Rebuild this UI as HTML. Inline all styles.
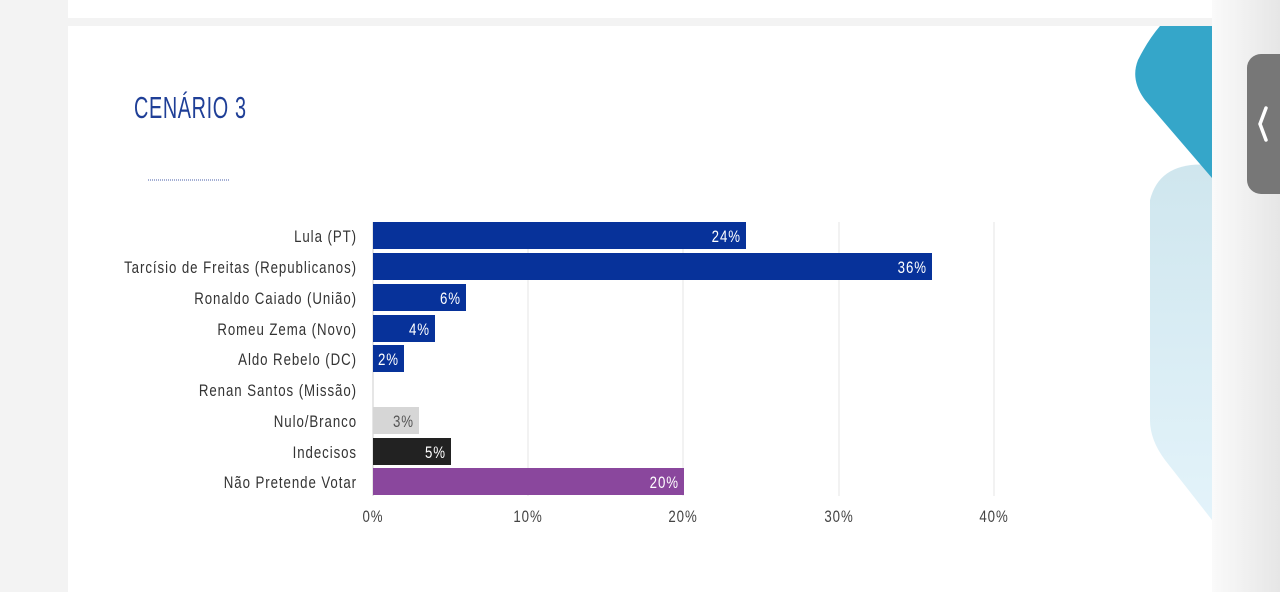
<!DOCTYPE html><html><head><style>
body{margin:0;width:1280px;height:592px;overflow:hidden;background:#f1f1f1;font-family:"Liberation Sans",sans-serif}
</style></head><body>
<svg width="1280" height="592" xmlns="http://www.w3.org/2000/svg" style="position:absolute;left:0;top:0">
<defs>
<linearGradient id="bg" x1="0" x2="1"><stop offset="0" stop-color="#fafafa"/><stop offset="1" stop-color="#e6e6e6"/></linearGradient>
<linearGradient id="lb" x1="0" y1="0" x2="0" y2="1"><stop offset="0" stop-color="#cfe6ee"/><stop offset="1" stop-color="#e3f3fa"/></linearGradient>
</defs>
<rect width="1280" height="592" fill="#f3f3f3"/>
<rect x="1212" y="0" width="68" height="592" fill="url(#bg)"/>
<rect x="68" y="0" width="1144" height="18" fill="#fff"/>
<rect x="68" y="26" width="1144" height="566" fill="#fff"/>
<path d="M1212 165 Q1160 160 1150 200 L1150 420 Q1150 440 1165 460 L1212 520 Z" fill="url(#lb)"/>
<path d="M1212 26 L1160 26 Q1148 40 1138 60 Q1130 80 1145 100 L1212 178 Z" fill="#35a6c9"/>
<rect x="1247" y="54" width="50" height="140" rx="14" fill="#777"/>
<path d="M1266 108 L1260 124 L1266 140" stroke="#fff" stroke-width="3.5" fill="none" stroke-linecap="round"/>
<g transform="translate(134,118) scale(0.64,1)"><text x="0" y="0" font-size="31" fill="#1f3f97" letter-spacing="1">CENÁRIO 3</text></g>
<line x1="148" y1="180" x2="229" y2="180" stroke="#4a5fa8" stroke-dasharray="1 1"/>
<g stroke="#e6e6e6"><line x1="528" y1="222" x2="528" y2="496"/><line x1="683" y1="222" x2="683" y2="496"/><line x1="839" y1="222" x2="839" y2="496"/><line x1="994" y1="222" x2="994" y2="496"/></g>
<line x1="373" y1="222" x2="373" y2="496" stroke="#ccc"/>
<g>
<rect x="373" y="222" width="373" height="27" fill="#07329a"/>
<rect x="373" y="253" width="559" height="27" fill="#07329a"/>
<rect x="373" y="284" width="93" height="27" fill="#07329a"/>
<rect x="373" y="315" width="62" height="27" fill="#07329a"/>
<rect x="373" y="345" width="31" height="27" fill="#07329a"/>
<rect x="373" y="407" width="46" height="27" fill="#d6d6d6"/>
<rect x="373" y="438" width="78" height="27" fill="#222"/>
<rect x="373" y="468" width="311" height="27" fill="#8a479d"/>
</g>
<g font-size="17" fill="#fff" letter-spacing="1.2">
<g transform="translate(741,242) scale(0.78,1)"><text text-anchor="end">24%</text></g>
<g transform="translate(927,273) scale(0.78,1)"><text text-anchor="end">36%</text></g>
<g transform="translate(461,304) scale(0.78,1)"><text text-anchor="end">6%</text></g>
<g transform="translate(430,335) scale(0.78,1)"><text text-anchor="end">4%</text></g>
<g transform="translate(399,365) scale(0.78,1)"><text text-anchor="end">2%</text></g>
<g transform="translate(414,427) scale(0.78,1)"><text text-anchor="end" fill="#555">3%</text></g>
<g transform="translate(446,458) scale(0.78,1)"><text text-anchor="end">5%</text></g>
<g transform="translate(679,488) scale(0.78,1)"><text text-anchor="end">20%</text></g>
</g>
<g font-size="17" fill="#333" letter-spacing="1.2">
<g transform="translate(357,242) scale(0.78,1)"><text text-anchor="end">Lula (PT)</text></g>
<g transform="translate(357,273) scale(0.78,1)"><text text-anchor="end">Tarcísio de Freitas (Republicanos)</text></g>
<g transform="translate(357,304) scale(0.78,1)"><text text-anchor="end">Ronaldo Caiado (União)</text></g>
<g transform="translate(357,335) scale(0.78,1)"><text text-anchor="end">Romeu Zema (Novo)</text></g>
<g transform="translate(357,365) scale(0.78,1)"><text text-anchor="end">Aldo Rebelo (DC)</text></g>
<g transform="translate(357,396) scale(0.78,1)"><text text-anchor="end">Renan Santos (Missão)</text></g>
<g transform="translate(357,427) scale(0.78,1)"><text text-anchor="end">Nulo/Branco</text></g>
<g transform="translate(357,458) scale(0.78,1)"><text text-anchor="end">Indecisos</text></g>
<g transform="translate(357,488) scale(0.78,1)"><text text-anchor="end">Não Pretende Votar</text></g>
</g>
<g font-size="17" fill="#444" letter-spacing="1.2">
<g transform="translate(373,522) scale(0.78,1)"><text text-anchor="middle">0%</text></g>
<g transform="translate(528,522) scale(0.78,1)"><text text-anchor="middle">10%</text></g>
<g transform="translate(683,522) scale(0.78,1)"><text text-anchor="middle">20%</text></g>
<g transform="translate(839,522) scale(0.78,1)"><text text-anchor="middle">30%</text></g>
<g transform="translate(994,522) scale(0.78,1)"><text text-anchor="middle">40%</text></g>
</g>
</svg>
</body></html>
